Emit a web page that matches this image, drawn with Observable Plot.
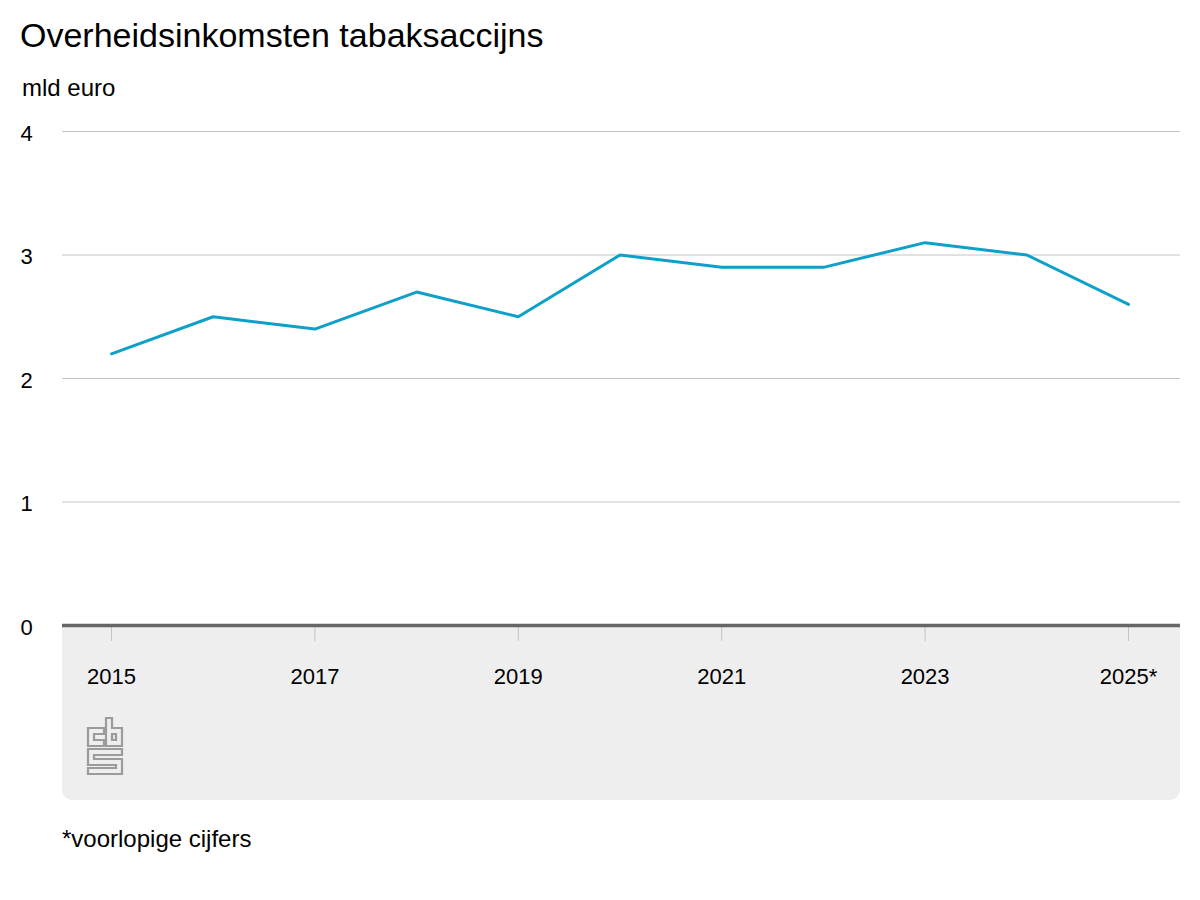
<!DOCTYPE html>
<html>
<head>
<meta charset="utf-8">
<script src="https://cdn.jsdelivr.net/npm/d3@7"></script>
<script src="https://cdn.jsdelivr.net/npm/@observablehq/plot@0.6"></script>
<style>
  html, body { margin: 0; padding: 0; background: #fff; }
  body { width: 1200px; height: 900px; position: relative; font-family: Arial, "Liberation Sans", sans-serif; color: #000; overflow: hidden; }
  .abs { position: absolute; line-height: 1; white-space: nowrap; }
  #title { left: 20px; top: 18px; font-size: 34px; }
  #unit { left: 22px; top: 76px; font-size: 24px; }
  #note { left: 62px; top: 827px; font-size: 24px; }
  #band { position: absolute; left: 62px; top: 625px; width: 1118px; height: 175px; background: #eeeeee; border-radius: 0 0 10px 10px; }
  #chart { position: absolute; left: 0; top: 100px; }
  #logo { position: absolute; left: 86px; top: 717px; }
</style>
</head>
<body>
<div id="band"></div>
<div class="abs" id="title">Overheidsinkomsten tabaksaccijns</div>
<div class="abs" id="unit">mld euro</div>
<div id="chart"></div>
<svg id="logo" width="38" height="59" viewBox="-1 -1 38 59">
  <g fill="none" stroke="#9b9b9b" stroke-width="2.2" stroke-linejoin="miter">
    <path d="M17,10 H1 V28 H17 V22 H7 V16 H17 Z"/>
    <path d="M19,0 H25 V10 H35 V28 H19 Z"/>
    <path d="M25,16 H29 V22 H25 Z"/>
    <path d="M1,31 H35 V37 H7 V41 H35 V56 H1 V50 H29 V47 H1 Z"/>
  </g>
</svg>
<div class="abs" id="note">*voorlopige cijfers</div>
<script>
const years = [2015, 2016, 2017, 2018, 2019, 2020, 2021, 2022, 2023, 2024, 2025];
const values = [2.2, 2.5, 2.4, 2.7, 2.5, 3.0, 2.9, 2.9, 3.1, 3.0, 2.6];
const xTicks = [2015, 2017, 2019, 2021, 2023, 2025];
const xTickLabels = ["2015", "2017", "2019", "2021", "2023", "2025*"];
const yTicks = [0, 1, 2, 3, 4];

const data = years.map((y, i) => ({year: y, value: values[i]}));
const labelOf = new Map(xTicks.map((t, i) => [t, xTickLabels[i]]));

const chart = Plot.plot({
  width: 1200,
  height: 700,
  marginTop: 31,
  marginBottom: 175,
  marginLeft: 62,
  marginRight: 20,
  style: {background: "transparent", fontFamily: "Arial, 'Liberation Sans', sans-serif", fontSize: "22px", color: "#000"},
  x: {type: "linear", domain: [2015, 2025], insetLeft: 49, insetRight: 52},
  y: {domain: [0, 4]},
  marks: [
    Plot.ruleY(yTicks.filter(d => d > 0), {stroke: "#c4c4c4", strokeWidth: 1}),
    Plot.axisY({ticks: yTicks, tickSize: 0, tickPadding: 42, textAnchor: "start", fontSize: 22, dy: 2, fill: "#000", label: null, tickFormat: d => String(d)}),
    Plot.axisX({ticks: xTicks, tickSize: 16, tickPadding: 27, fontSize: 22, stroke: "#c4c4c4", fill: "#000", label: null, tickFormat: d => labelOf.get(d)}),
    Plot.ruleY([0], {stroke: "#666666", strokeWidth: 3.5}),
    Plot.lineY(data, {x: "year", y: "value", stroke: "#0ea0c9", strokeWidth: 3, strokeLinejoin: "miter"})
  ]
});
document.getElementById("chart").appendChild(chart);
</script>
</body>
</html>
